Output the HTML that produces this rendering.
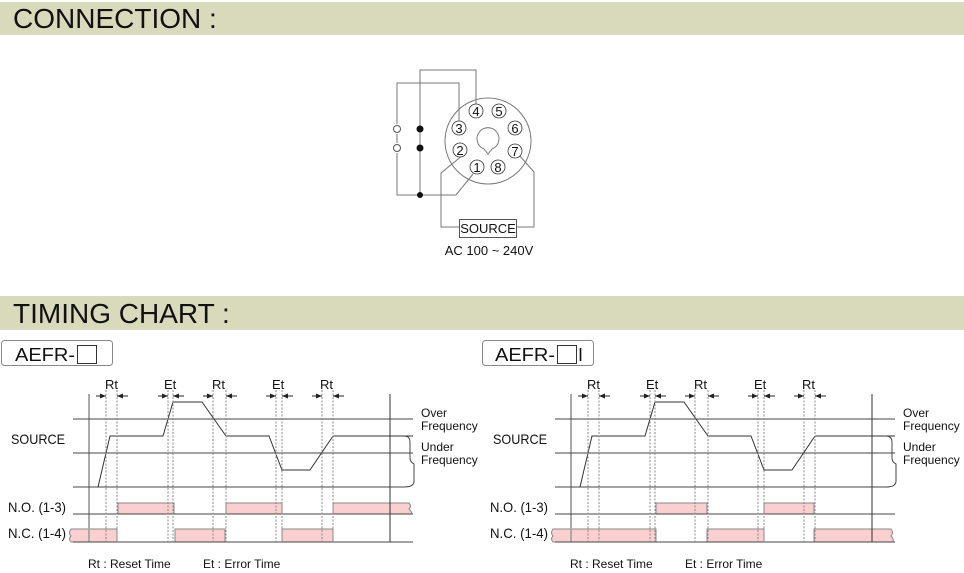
<!DOCTYPE html>
<html><head><meta charset="utf-8"><style>
html,body{margin:0;padding:0;background:#fff;}
svg{display:block;font-family:"Liberation Sans",Arial,sans-serif;}
</style></head><body>
<svg width="964" height="573" viewBox="0 0 964 573" xmlns="http://www.w3.org/2000/svg">
<defs>
<marker id="ar" markerWidth="6" markerHeight="6" refX="6" refY="3" orient="auto" markerUnits="userSpaceOnUse">
<path d="M0,0.5 L6,3 L0,5.5 Z" fill="#222"/></marker>
<g id="chart">
 <line x1="89" y1="394" x2="89" y2="542" stroke="#aaa" stroke-width="2"/>
 <line x1="390" y1="394" x2="390" y2="542" stroke="#333" stroke-width="1"/>
 <g stroke="#444" stroke-width="1">
  <line x1="73" y1="419" x2="413" y2="419"/>
  <line x1="73" y1="453" x2="413" y2="453"/>
  <line x1="73" y1="487" x2="404" y2="487"/>
  <line x1="73" y1="514" x2="413" y2="514"/>
  <line x1="73" y1="542" x2="413" y2="542"/>
 </g>
 <path d="M404,436 Q410,436 410,442 L410,458 Q410,462 414,464 L414,481 Q414,487 404,487" fill="none" stroke="#444" stroke-width="1"/>
 <polyline points="98,487 110,436 163,436 173,402 202,402 226,436 269,436 282,470 310,470 333,436 413,436" fill="none" stroke="#333" stroke-width="1"/>
 <g stroke="#888" stroke-width="1" stroke-dasharray="2,1.5">
  <line x1="106" y1="390" x2="106" y2="542"/><line x1="117" y1="390" x2="117" y2="542"/>
  <line x1="168" y1="390" x2="168" y2="542"/><line x1="173" y1="390" x2="173" y2="542"/>
  <line x1="213" y1="390" x2="213" y2="542"/><line x1="226" y1="390" x2="226" y2="542"/>
  <line x1="276" y1="390" x2="276" y2="542"/><line x1="282" y1="390" x2="282" y2="542"/>
  <line x1="322" y1="390" x2="322" y2="542"/><line x1="333" y1="390" x2="333" y2="542"/>
 </g>
 <g stroke="#222" stroke-width="1">
  <line x1="96" y1="396" x2="106" y2="396" marker-end="url(#ar)"/><line x1="128" y1="396" x2="117" y2="396" marker-end="url(#ar)"/>
  <line x1="158" y1="396" x2="168" y2="396" marker-end="url(#ar)"/><line x1="184" y1="396" x2="173" y2="396" marker-end="url(#ar)"/>
  <line x1="203" y1="396" x2="213" y2="396" marker-end="url(#ar)"/><line x1="237" y1="396" x2="226" y2="396" marker-end="url(#ar)"/>
  <line x1="266" y1="396" x2="276" y2="396" marker-end="url(#ar)"/><line x1="293" y1="396" x2="282" y2="396" marker-end="url(#ar)"/>
  <line x1="312" y1="396" x2="322" y2="396" marker-end="url(#ar)"/><line x1="344" y1="396" x2="333" y2="396" marker-end="url(#ar)"/>
 </g>
 <g font-size="13" fill="#111">
  <text x="105" y="389">Rt</text><text x="164" y="389">Et</text><text x="212" y="389">Rt</text><text x="272" y="389">Et</text><text x="320" y="389">Rt</text>
  <text x="421" y="417" font-size="12">Over</text><text x="421" y="430" font-size="12">Frequency</text>
  <text x="421" y="451" font-size="12">Under</text><text x="421" y="464" font-size="12">Frequency</text>
  <text x="11" y="444" font-size="14" textLength="54" lengthAdjust="spacingAndGlyphs">SOURCE</text>
  <text x="8" y="512" font-size="14" textLength="58" lengthAdjust="spacingAndGlyphs">N.O. (1-3)</text>
  <text x="8" y="538" font-size="14" textLength="58" lengthAdjust="spacingAndGlyphs">N.C. (1-4)</text>
  <text x="88" y="568" font-size="12">Rt : Reset Time</text><text x="203" y="568" font-size="12">Et : Error Time</text>
 </g>
</g>
</defs>

<rect x="0" y="2" width="964" height="33" fill="#d9d9bc"/>
<text x="13" y="28" font-size="28" fill="#111">CONNECTION :</text>
<rect x="0" y="296" width="964" height="34" fill="#d9d9bc"/>
<text x="13" y="323" font-size="28" fill="#111">TIMING CHART :</text>

<rect x="1.5" y="340.5" width="111" height="25" rx="3" fill="#fff" stroke="#888"/>
<text x="15" y="361" font-size="18" fill="#111" textLength="60" lengthAdjust="spacingAndGlyphs">AEFR-</text>
<rect x="77.5" y="345.5" width="19" height="18" fill="#fff" stroke="#333"/>
<rect x="482.5" y="340.5" width="111" height="25" rx="3" fill="#fff" stroke="#888"/>
<text x="495" y="361" font-size="18" fill="#111" textLength="60" lengthAdjust="spacingAndGlyphs">AEFR-</text>
<rect x="557.5" y="345.5" width="19" height="18" fill="#fff" stroke="#333"/>
<text x="578" y="361" font-size="18" fill="#111">I</text>

<g fill="none" stroke="#777" stroke-width="1">
 <polyline points="476,104 476,70 420,70 420,195"/>
 <polyline points="459,121 459,83 397,83 397,124"/>
 <polyline points="397,153 397,195 456,195 473,174"/>
 <line x1="397" y1="134" x2="397" y2="143"/>
 <polyline points="463,155 441,173 441,227 459,227"/>
 <polyline points="519,155 534,172 534,227 516,227"/>
 <circle cx="488" cy="141" r="43"/>
 <path d="M484,149 A11,11 0 1 1 492,149 L488,154 Z"/>
</g>
<g fill="#fff" stroke="#555" stroke-width="1">
 <circle cx="397" cy="129" r="3.5"/><circle cx="397" cy="148" r="3.5"/>
</g>
<g fill="#111"><circle cx="420" cy="129" r="3.5"/><circle cx="420" cy="148" r="3.5"/><circle cx="420" cy="195" r="3"/></g>
<g fill="#fff" stroke="#333" stroke-width="0.8">
 <circle cx="476" cy="111" r="7"/><circle cx="499" cy="111" r="7"/>
 <circle cx="459" cy="128" r="7"/><circle cx="515" cy="128" r="7"/>
 <circle cx="460" cy="150" r="7"/><circle cx="515" cy="151" r="7"/>
 <circle cx="477" cy="167" r="7"/><circle cx="498" cy="167" r="7"/>
</g>
<g font-size="13" fill="#111" text-anchor="middle">
 <text x="476" y="116">4</text><text x="499" y="116">5</text>
 <text x="459" y="133">3</text><text x="515" y="133">6</text>
 <text x="460" y="155">2</text><text x="515" y="156">7</text>
 <text x="477" y="172">1</text><text x="498" y="172">8</text>
</g>
<rect x="459.5" y="219.5" width="57" height="18" fill="#fff" stroke="#555"/>
<text x="488" y="233" font-size="13" text-anchor="middle" fill="#111">SOURCE</text>
<text x="489" y="255" font-size="13" text-anchor="middle" fill="#111">AC 100 ~ 240V</text>

<g fill="#f9cfcf" stroke="#888" stroke-width="1">
 <rect x="118" y="503" width="56" height="11"/>
 <rect x="226" y="503" width="56" height="11"/>
 <path d="M333,514 L333,503 L409,503 Q412,506 409,509 Q412,512 412,514"/>
 <path d="M71,542 Q68,539 71,536 Q68,533 71,529 L117,529 L117,542 Z"/>
 <rect x="175" y="529" width="50" height="13"/>
 <rect x="282" y="529" width="51" height="13"/>
</g>
<use href="#chart"/>

<g fill="#f9cfcf" stroke="#888" stroke-width="1">
 <rect x="656" y="503" width="51" height="11"/>
 <rect x="764" y="503" width="50" height="11"/>
 <path d="M553,542 Q550,539 553,536 Q550,533 553,529 L656,529 L656,542 Z"/>
 <rect x="707" y="529" width="57" height="13"/>
 <path d="M814,542 L814,529 L891,529 Q894,533 891,536 Q894,539 893,542 Z"/>
</g>
<use href="#chart" transform="translate(482,0)"/>
</svg>
</body></html>
